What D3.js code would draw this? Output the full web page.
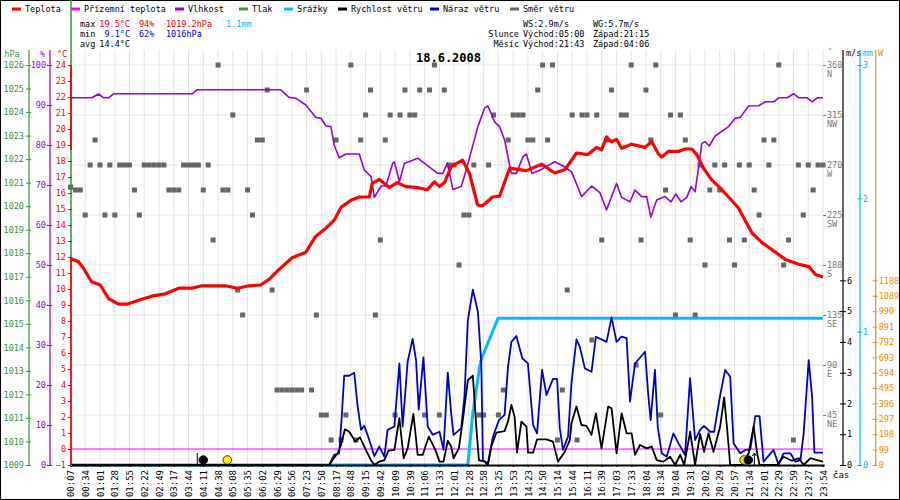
<!DOCTYPE html>
<html>
<head>
  <meta charset="UTF-8">
  <title>18.6.2008</title>
  <style>
    body { margin: 0; background: #fff; }
    svg text { font-family: "DejaVu Sans Mono", monospace; font-size: 8.5px; }
  </style>
</head>
<body>
<svg id="chart" width="900" height="500"></svg>
<script src="https://cdn.jsdelivr.net/npm/d3@7"></script>
<script>
// popisky casove osy (jeden na slot)
const timeLabels = ["00:07","00:34","01:01","01:28","01:55","02:22","02:49","03:17","03:44","04:11",
  "04:38","05:08","05:35","06:02","06:29","06:56","07:23","07:50","08:17","08:48","09:15","09:42",
  "10:09","10:39","11:06","11:33","12:01","12:28","12:58","13:25","13:53","14:23","14:50","15:14",
  "15:44","16:11","16:39","17:03","17:33","18:04","18:34","19:04","19:31","20:02","20:29","20:57",
  "21:34","22:01","22:29","22:59","23:27","23:54"];

// [slot, °C]
const teplota = [[0,11.9],[0.54,11.7],[0.88,11.3],[1.43,10.45],[2.02,10.25],[2.58,9.4],[3.26,9.05],
  [3.81,9.05],[4.62,9.3],[5.5,9.55],[6.44,9.7],[7.34,10.05],[8.22,10.05],[8.9,10.2],[10.51,10.2],
  [11.28,10.05],[12.1,10.2],[12.89,10.25],[13.45,10.6],[14.34,11.4],[15.02,11.95],[15.95,12.3],
  [16.63,13.3],[17.31,13.8],[17.87,14.3],[18.33,15.1],[19.01,15.55],[19.57,15.75],[20.25,15.75],
  [20.45,16.6],[20.93,16.85],[21.61,16.35],[22.15,16.65],[22.74,16.4],[23.42,16.35],[24.19,16.2],
  [24.67,16.7],[25.01,16.4],[25.35,16.65],[25.8,17.65],[26.57,18.05],[27.05,17.2],[27.59,15.25],
  [27.93,15.2],[28.61,15.75],[29.08,15.8],[29.76,17.55],[30.9,17.4],[31.92,17.8],[32.82,17.25],
  [33.5,17.45],[34.3,18.5],[35.06,18.4],[35.65,18.85],[35.99,18.7],[36.33,19.5],[36.67,19.2],
  [37.01,19.35],[37.35,18.8],[38.03,19.05],[38.94,18.85],[39.39,19.2],[39.84,18.45],[40.07,18.25],
  [40.52,18.6],[41.2,18.6],[41.66,18.75],[42.11,18.75],[42.45,18.4],[42.9,17.55],[43.47,16.8],
  [44.04,16.3],[44.6,15.75],[45.28,15.05],[46.19,13.5],[46.87,12.9],[47.55,12.45],[48.45,11.85],
  [49.36,11.55],[50.04,11.4],[50.49,10.9],[51,10.75]];

// [slot, °C]
const prizemniTeplota = [[0,0],[51,0]];

// [slot, %]
const vlhkost = [[0,91.8],[1.45,91.8],[1.9,92.75],[2.24,91.8],[2.58,91.8],[2.92,92.8],[8.24,92.8],
  [8.58,93.8],[14.25,93.8],[14.81,91.9],[15.27,91.7],[15.95,90],[16.63,86.9],[16.97,86.7],
  [17.31,84.8],[17.65,84.6],[17.87,80],[18.21,76.8],[18.67,77.75],[19.57,77.75],[19.91,73.75],
  [20.37,72.1],[20.59,66.9],[21.05,69.75],[21.38,69.75],[21.83,75.4],[21.95,75.8],[22.29,70.8],
  [22.63,75.4],[23.53,76.7],[24.89,72.9],[25.23,72.9],[25.55,75.5],[25.91,68.9],[26.48,69.6],
  [26.82,73.75],[27.61,84.6],[28.06,89.2],[28.29,89.75],[28.74,85.8],[29.08,84.6],[29.42,81.25],
  [29.88,72.9],[30.22,72.9],[30.67,77.1],[30.9,77.75],[31.28,72.9],[31.92,73.9],[32.82,75.8],
  [33.39,74.75],[33.96,73.3],[34.64,67.1],[35.32,69.75],[35.88,68.1],[36.33,63.75],[37.01,70.4],
  [37.35,66.9],[37.92,65.8],[38.26,68.75],[38.71,67.1],[39.05,67.1],[39.33,62],[39.73,66.25],
  [40.3,67.1],[40.7,65.8],[41.02,67.75],[41.38,65.8],[41.77,66.9],[42.06,69.6],[42.33,68.3],
  [42.56,74.2],[42.79,80.4],[43.01,80.8],[43.29,79.75],[43.69,82.25],[44.6,84.6],[45.05,86.7],
  [45.39,86.9],[45.96,89.75],[46.64,89.8],[47.09,90.8],[47.66,90.8],[48.0,91.8],[48.57,91.8],
  [49.02,92.8],[49.36,91.8],[49.93,91.8],[50.27,90.8],[50.61,91.8],[51,91.8]];

// [slot, m/s]
const rychlostVetru = [[0,0],[17.53,0],[17.76,0.16],[18.1,0.38],[18.33,0.65],[18.6,1.16],[18.89,1.08],
  [19.11,0.92],[19.3,0.76],[19.62,0.9],[19.91,0.6],[20.36,0.16],[20.59,0],[20.93,0.11],[21.27,0.16],
  [21.56,0.47],[21.95,0.49],[22.29,1.52],[22.58,0.22],[22.85,0.54],[23.24,1.66],[23.53,0.33],
  [23.87,0.33],[24.28,0.92],[24.73,0.49],[25.01,0.11],[25.28,0.11],[25.57,0.79],[25.8,0.6],
  [25.96,0.22],[26.32,0.54],[26.59,1.46],[26.93,2.76],[27.27,2.9],[27.5,1.25],[27.68,0.16],
  [28.06,0.11],[28.29,0],[28.52,0.6],[28.86,1.05],[29.42,1.1],[29.65,1.41],[29.88,1.95],[30.1,1.57],
  [30.26,0.4],[30.56,1.41],[30.9,1.25],[31.01,0.4],[31.35,0.4],[31.62,0.83],[32.26,0.83],[32.7,0.76],
  [33.04,0.11],[33.5,0.43],[33.84,0.81],[33.95,1.35],[34.29,1.9],[34.63,1.3],[34.97,1.27],
  [35.31,0.98],[35.61,1.68],[35.99,0.54],[36.44,1.9],[36.67,1.84],[37.01,0.38],[37.35,1.68],
  [37.69,1.03],[38.03,1.03],[38.26,0.33],[38.6,0.65],[39.05,0.54],[39.39,0.6],[39.73,0.16],
  [40.18,0.11],[40.64,0.27],[40.98,0],[41.32,0.33],[41.59,0],[42.0,1.08],[42.33,0],[42.67,1.01],
  [42.94,0.43],[43.24,1.03],[43.58,0.43],[44.03,1.25],[44.3,2.2],[44.49,1.25],[44.71,0],[45.51,0],
  [45.96,0.38],[46.3,1.25],[46.52,0.43],[46.7,0],[47.88,0],[48.33,0.27],[48.9,0.14],[49.36,0.22],
  [49.69,0],[50.15,0.22],[50.6,0.16],[51,0.11]];

// [slot, m/s]
const narazVetru = [[0,0],[17.53,0],[17.87,0.33],[18.21,0.38],[18.39,1.63],[18.55,2.9],[18.89,2.9],
  [19.23,3.0],[19.45,1.95],[19.69,1.14],[19.91,1.28],[20.25,0.81],[20.59,0.29],[20.93,0.6],
  [21.27,0.27],[21.49,1.14],[21.95,1.25],[22.29,3.3],[22.51,1.25],[22.85,3.36],[23.19,4.1],
  [23.42,3.4],[23.6,1.8],[23.92,3.5],[24.21,1.25],[24.55,0.98],[25.01,1.08],[25.28,0.49],[25.57,3.0],
  [25.8,1.68],[25.96,0.98],[26.48,1.19],[26.7,2.22],[26.93,4.71],[27.27,5.7],[27.61,4.98],
  [27.84,3.3],[27.95,0.16],[28.29,0.05],[28.63,0.92],[29.04,1.46],[29.42,1.63],[29.65,3.19],
  [29.88,4.0],[30.22,4.19],[30.62,3.47],[31.0,3.3],[31.35,1.3],[31.62,1.03],[31.96,3.09],
  [32.26,2.27],[32.7,2.8],[32.98,2.8],[33.16,1.2],[33.38,0.49],[33.72,0.92],[33.95,2.65],
  [34.29,4.08],[34.52,3.84],[34.86,3.14],[35.31,3.03],[35.61,4.17],[36.33,4.0],[36.67,4.8],
  [37.01,4.0],[37.35,4.17],[37.69,4.12],[37.92,2.06],[38.26,3.3],[38.94,3.68],[39.16,2.27],
  [39.32,1.46],[39.61,3.09],[39.8,1.25],[40.07,0.38],[40.41,0.27],[40.86,1.03],[41.2,0.71],
  [41.65,0.33],[41.99,2.82],[42.33,0.81],[42.67,1.14],[42.94,1.27],[43.35,1.08],[43.62,1.08],
  [44.03,2.27],[44.37,3.09],[44.71,2.87],[44.94,0.71],[45.39,0.38],[45.73,0.49],[46.07,0.49],
  [46.41,1.59],[46.7,1.59],[46.97,0.11],[47.65,0.49],[47.99,0],[48.33,0.38],[48.79,0.38],
  [49.13,0.11],[49.47,0.16],[49.69,1.03],[50.03,3.41],[50.26,2.22],[50.42,0.4],[51,0.4]];

// [slot, mm] kumulativne
const srazky = [[0,0],[26.93,0],[27.27,0.39],[27.73,0.74],[27.9,0.81],[28.97,1.1],[51,1.1]];

// smer vetru, jeden vzorek na tretinu slotu (stupne)
const smerVetru = [250,247.5,247.5,225,270,292.5,270,225,270,225,270,270,270,247.5,225,270,270,270,270,270,
  247.5,247.5,247.5,270,270,270,270,247.5,270,202.5,360,247.5,247.5,315,157.5,135,247.5,225,292.5,292.5,
  337.5,157.5,67.5,67.5,67.5,67.5,67.5,67.5,337.5,67.5,135,45,45,22.5,292.5,22.5,45,360,22.5,292.5,
  315,337.5,135,202.5,292.5,315,45,315,337.5,315,315,337.5,45,337.5,360,45,337.5,270,270,180,
  225,225,270,45,45,270,315,45,67.5,292.5,315,315,315,292.5,292.5,337.5,360,292.5,360,22.5,
  67.5,157.5,315,22.5,315,315,112.5,315,202.5,292.5,337.5,null,315,315,360,90,202.5,337.5,292.5,360,
  45,247.5,315,135,315,292.5,202.5,135,270,180,247.5,270,247.5,270,202.5,180,270,202.5,270,247.5,
  225,292.5,270,292.5,360,180,202.5,22.5,270,225,270,247.5,270,270];

// slunce / mesic [slot, typ]
const astro = [[9.0,"zapadMesice"],[10.63,"vychodSlunce"],[45.65,"zapadSlunce"],[45.94,"vychodMesice"]];

const legendNames = ["Teplota","Přízemní teplota","Vlhkost","Tlak","Srážky","Rychlost větru","Náraz větru","Směr větru"];
const legendColors = ["#ff0000","#ff00ff","#9900dd","#339933","#00bbff","#000000","#0000cc","#666666"];
const legendX = [12,71,175,239,284,338,430,510];

const compass = {360:"N",315:"NW",270:"W",225:"SW",180:"S",135:"SE",90:"E",45:"NE"};

// --- kresleni ---
const svg = d3.select("#chart");
const plotTop = 65, plotBottom = 465;
const intFmt = d3.format("d");

const x = d3.scaleLinear().domain([0, 51]).range([70.5, 823]);
const yT = d3.scaleLinear().domain([-1, 24]).range([plotBottom, plotTop]);
const yH = d3.scaleLinear().domain([0, 100]).range([plotBottom, plotTop]);
const yP = d3.scaleLinear().domain([1009, 1026]).range([plotBottom, plotTop]);
const yDir = d3.scaleLinear().domain([0, 360]).range([plotBottom, plotTop]);
const yWind = d3.scaleLinear().domain([0, 13]).range([plotBottom, plotTop]);
const yRain = d3.scaleLinear().domain([0, 3]).range([plotBottom, plotTop]);
const yWatt = d3.scaleLinear().domain([0, 2574]).range([plotBottom, plotTop]);

svg.append("rect").attr("x", 0.5).attr("y", 0.5).attr("width", 899).attr("height", 499)
  .attr("fill", "#fff").attr("stroke", "#000");

// mrizka
const grid = svg.append("g");
grid.selectAll(".vg").data(d3.range(timeLabels.length)).enter().append("line")
  .attr("x1", d => x(d)).attr("x2", d => x(d)).attr("y1", 50).attr("y2", plotBottom)
  .attr("stroke", "#e6e2e2");
grid.selectAll(".hg").data(d3.range(45, 361, 45)).enter().append("line")
  .attr("x1", x(0)).attr("x2", x(51)).attr("y1", d => yDir(d)).attr("y2", d => yDir(d))
  .attr("stroke", "#e6e2e2");

// legenda
legendNames.forEach((n, i) => {
  svg.append("line").attr("x1", legendX[i]).attr("x2", legendX[i] + 9).attr("y1", 9).attr("y2", 9)
    .attr("stroke", legendColors[i]).attr("stroke-width", 3);
  svg.append("text").attr("x", legendX[i] + 13).attr("y", 12).text(n);
});

// statistiky
function txt(xx, yy, s, color, anchor) {
  return svg.append("text").attr("x", xx).attr("y", yy).attr("fill", color || "#000")
    .attr("text-anchor", anchor || "start").text(s);
}
txt(80, 27, "max"); txt(130, 27, "19.5°C", "#ff0000", "end"); txt(139, 27, "94%", "#ff0000");
txt(166, 27, "1019.2hPa", "#ff0000"); txt(226, 27, "1.1mm", "#00bbff");
txt(80, 37, "min"); txt(130, 37, "9.1°C", "#0000dd", "end"); txt(139, 37, "62%", "#0000dd");
txt(166, 37, "1016hPa", "#0000dd");
txt(80, 47, "avg"); txt(130, 47, "14.4°C", "#000", "end");
txt(523, 27, "WS:2.9m/s"); txt(593, 27, "WG:5.7m/s");
txt(519, 37, "Slunce", "#000", "end"); txt(523, 37, "Východ:05:00"); txt(593, 37, "Západ:21:15");
txt(519, 47, "Měsíc", "#000", "end"); txt(523, 47, "Východ:21:43"); txt(593, 47, "Západ:04:06");
txt(448.5, 62, "18.6.2008", "#000", "middle").style("font-size", "12px").style("font-weight", "bold");

// smer vetru
svg.append("g").selectAll("rect").data(smerVetru.map((d, i) => [i / 3, d]).filter(d => d[1] !== null))
  .enter().append("rect")
  .attr("x", d => x(d[0]) - 2.5).attr("y", d => yDir(d[1]) - 2.5)
  .attr("width", 5).attr("height", 5).attr("fill", "#666");

// linie
const line = yScale => d3.line().x(d => x(d[0])).y(d => yScale(d[1]));
function drawLine(data, yScale, color, w) {
  svg.append("path").datum(data).attr("d", line(yScale)).attr("fill", "none")
    .attr("stroke", color).attr("stroke-width", w).attr("stroke-linejoin", "round");
}
drawLine(prizemniTeplota, yT, "#ff00ff", 1);
drawLine(vlhkost, yH, "#9900dd", 1.6);
drawLine(teplota, yT, "#ff0000", 3.2);
drawLine(srazky, yRain, "#00bbff", 3);
drawLine(narazVetru, yWind, "#0000cc", 1.8);
drawLine(rychlostVetru, yWind, "#000", 1.8);

// osa x
const xAxis = svg.append("g").attr("transform", "translate(0," + plotBottom + ")")
  .call(d3.axisBottom(x).tickValues(d3.range(timeLabels.length)).tickFormat(i => timeLabels[i]).tickSize(2));
xAxis.select(".domain").attr("stroke-width", 2);
xAxis.selectAll("text").attr("transform", "rotate(-90)").attr("text-anchor", "end")
  .attr("x", -5).attr("y", 0).attr("dy", "0.35em")
  .style("font-family", "DejaVu Sans Mono").style("font-size", "9px");
txt(833, 478, "čas").style("font-size", "9px");

// osy po stranach
function sideAxis(axis, xPos, color, cross) {
  const g = svg.append("g").attr("transform", "translate(" + xPos + ",0)").call(axis.tickFormat(intFmt));
  g.select(".domain").remove();
  g.selectAll(".tick line").attr("stroke", color).attr("x1", cross);
  g.selectAll("text").attr("fill", color).style("font-family", "DejaVu Sans Mono").style("font-size", "8.5px");
  return g;
}
function vline(xPos, y1, y2, color, w) {
  svg.append("line").attr("x1", xPos).attr("x2", xPos).attr("y1", y1).attr("y2", y2)
    .attr("stroke", color).attr("stroke-width", w || 1.2);
}

vline(29, 50, plotBottom, "#339933");
sideAxis(d3.axisLeft(yP).tickValues(d3.range(1009, 1027)).tickSize(3).tickPadding(2), 29, "#339933", 2);
vline(50, 50, plotBottom, "#9900dd");
sideAxis(d3.axisLeft(yH).tickValues(d3.range(0, 101, 10)).tickSize(3).tickPadding(1), 50, "#9900dd", 2);
vline(71, 0, 257, "#339933", 1.5);
vline(71, plotTop, 150, "#ff0000", 1.8);
vline(71, 257, plotBottom, "#ff0000", 1.8);
sideAxis(d3.axisLeft(yT).tickValues(d3.range(-1, 25)).tickSize(3).tickPadding(2), 71, "#ff0000", 1);

txt(12, 57, "hPa", "#339933", "middle");
txt(42.5, 57, "%", "#9900dd", "middle");
txt(62, 57, "°C", "#ff0000", "middle");

const dirG = sideAxis(d3.axisRight(yDir).tickValues(d3.range(45, 361, 45)).tickSize(3).tickPadding(1), 823, "#777", 0);
dirG.selectAll(".tick").append("text").attr("x", 4).attr("y", 11.5)
  .attr("fill", "#777").style("font-size", "8.5px").text(d => compass[d]);
txt(828, 53, "°", "#777").style("font-size", "7px");

vline(843, 50, plotBottom, "#000");
sideAxis(d3.axisRight(yWind).tickValues(d3.range(0, 7)).tickSize(3).tickPadding(1), 843, "#000", -3);
txt(846, 56, "m/s", "#000");

vline(860, 50, plotBottom, "#00bbff");
sideAxis(d3.axisRight(yRain).tickValues([0, 1, 2, 3]).tickSize(2).tickPadding(1), 860, "#00bbff", -3);
txt(863, 56, "mm", "#00bbff");

vline(875.7, 50, plotBottom, "#ff8800");
sideAxis(d3.axisRight(yWatt).tickValues(d3.range(0, 1189, 99)).tickSize(2).tickPadding(1), 875.7, "#ff8800", -3);
txt(878, 56, "W", "#ff8800");

// slunce a mesic
const ag = svg.append("g");
astro.forEach(([s, t]) => {
  const cx = x(s), cy = 460;
  const sun = t.indexOf("Slunce") >= 0;
  ag.append("circle").attr("cx", cx).attr("cy", cy).attr("r", 4.3)
    .attr("fill", sun ? "#ffee00" : "#000").attr("stroke", "#000").attr("stroke-width", 0.8);
  if (t === "zapadMesice") {
    ag.append("line").attr("x1", cx - 6).attr("x2", cx - 6).attr("y1", 453).attr("y2", 465).attr("stroke", "#000");
  }
  if (t === "vychodMesice") {
    ag.append("line").attr("x1", cx + 6).attr("x2", cx + 6).attr("y1", 453).attr("y2", 465).attr("stroke", "#000");
    ag.append("path").attr("d", d3.line()([[cx + 4, 456], [cx + 6, 453], [cx + 8, 456]]))
      .attr("fill", "none").attr("stroke", "#000");
  }
});
</script>
</body>
</html>
